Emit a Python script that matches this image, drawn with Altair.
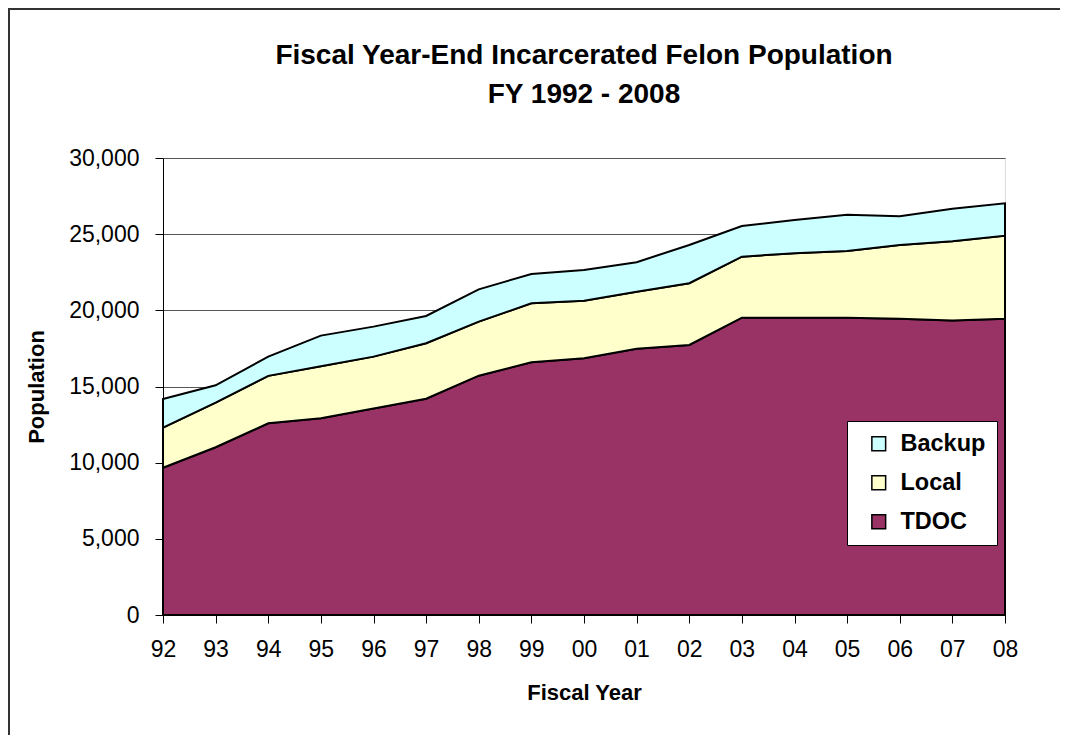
import altair as alt
import pandas as pd

years = ["92", "93", "94", "95", "96", "97", "98", "99", "00", "01", "02",
         "03", "04", "05", "06", "07", "08"]
tdoc = [9670, 11010, 12585, 12910, 13550, 14200, 15710, 16590, 16850, 17480,
        17730, 19520, 19520, 19520, 19450, 19330, 19450]
local = [2630, 2930, 3115, 3420, 3410, 3640, 3550, 3870, 3780, 3740,
         4050, 4000, 4230, 4380, 4840, 5200, 5450]
backup = [1880, 1140, 1260, 2010, 1970, 1790, 2120, 1930, 2020, 1940,
          2510, 2020, 2180, 2380, 1880, 2140, 2130]
series_names = ["TDOC", "Local", "Backup"]
legend_order = ["Backup", "Local", "TDOC"]
legend_colors = ["#CCFFFF", "#FFFFCC", "#993366"]
y_ticks = [0, 5000, 10000, 15000, 20000, 25000, 30000]

rows = []
for i, yr in enumerate(years):
    for k, (name, vals) in enumerate(zip(series_names, [tdoc, local, backup])):
        rows.append({"year": yr, "series": name, "value": vals[i], "ord": k})
df = pd.DataFrame(rows)

FONT = "Liberation Sans"

area = alt.Chart(df).mark_area(
    stroke="black", strokeWidth=2, opacity=1, strokeJoin="miter"
).encode(
    x=alt.X("year:O", sort=years,
            scale=alt.Scale(type="point", padding=0),
            axis=alt.Axis(title="Fiscal Year", labelAngle=0, labelFontSize=23,
                          labelFont=FONT, labelColor="black", labelPadding=15,
                          tickSize=8, tickColor="black", domainColor="black",
                          titleFont=FONT, titleFontSize=22, titleFontWeight="bold",
                          titleColor="black", titlePadding=21, grid=False)),
    y=alt.Y("value:Q", stack="zero",
            scale=alt.Scale(domain=[0, 30000], nice=False),
            axis=alt.Axis(values=y_ticks, format=",.0f", title="Population",
                          labelFontSize=23, labelFont=FONT, labelColor="black",
                          labelPadding=16, tickSize=8, tickColor="black",
                          domainColor="black", gridColor="#555555",
                          titleFont=FONT, titleFontSize=22, titleFontWeight="bold",
                          titleColor="black", titlePadding=20)),
    color=alt.Color("series:N",
                    scale=alt.Scale(domain=legend_order, range=legend_colors),
                    legend=alt.Legend(title=None, orient="none", legendX=684,
                                      legendY=263, fillColor="white",
                                      strokeColor="black", padding=11,
                                      symbolOffset=9, symbolType="square",
                                      symbolSize=190, symbolStrokeColor="black",
                                      symbolStrokeWidth=1.5,
                                      labelFont=FONT, labelFontSize=23.5,
                                      labelFontWeight="bold", labelColor="black",
                                      labelOffset=10, rowPadding=14)),
    order=alt.Order("ord:Q", sort="ascending"),
)

frame = alt.Chart(pd.DataFrame({"a": [0]})).mark_rect(
    fillOpacity=0, stroke="#333333", strokeWidth=2
).encode(
    x=alt.value(-154), y=alt.value(-149),
    x2=alt.value(1000), y2=alt.value(700),
)

chart = alt.layer(frame, area).properties(
    width=842, height=457,
    title=alt.TitleParams(
        text=["Fiscal Year-End Incarcerated Felon Population", "FY 1992 - 2008"],
        font=FONT, fontSize=28, fontWeight="bold", color="black",
        anchor="middle", frame="group", lineHeight=39, offset=48, dy=149),
    autosize=alt.AutoSizeParams(type="none"),
    padding={"left": 155, "top": 150, "right": 55, "bottom": 120},
).configure_view(fill="#C0C0C0", stroke=None).configure(background="white")

chart.save("out.html", embed_options={"renderer": "svg", "actions": False})
